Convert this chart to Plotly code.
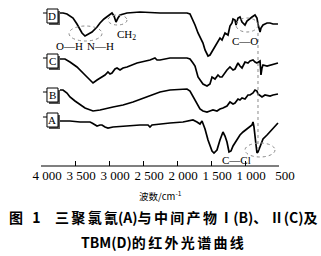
import plotly.graph_objects as go

# ---------------- data ----------------
wn_D = [3721,3676,3618,3529,3471,3397,3353,3309,3250,3176,3132,3074,3029,2956,2926,2897,2868,2838,2735,2544,
        2250,1853,1809,1765,1735,1691,1662,1618,1588,1544,1515,1471,1441,1412,1368,1338,1294,1250,1221,1191,
        1176,1147,1132,1103,1074,1044,1029,1000,971,926,897,853,824,809,779,765,735,676,632,588,515]
T_D = [153,153,152,148,142,133,130,132,134,139,143,147,149,153,150,144,148,151,153,154,
       153,153,152,146,141,133,129,123,116,110,111,116,120,123,128,126,133,131,140,143,
       147,146,141,148,149,144,143,141,145,148,149,151,148,142,134,138,141,143,143,142,142]

wn_C = [3721,3647,3574,3471,3353,3279,3235,3176,3103,3059,3015,2985,2956,2912,2882,2838,2794,2735,2588,2397,
        2324,2294,2250,2103,1853,1809,1765,1735,1691,1662,1618,1559,1515,1485,1441,1397,1368,1338,1294,1265,
        1221,1176,1147,1103,1074,1044,1000,956,926,882,853,824,779,765,750,735,676,632,588,515]
T_C = [107,107,104,99,91,86,83,86,89,91,94,92,93,97,98,96,98,99,103,106,
       108,106,106,108,108,107,103,100,89,86,82,80,82,89,87,91,89,89,94,96,
       99,96,97,103,100,98,104,103,105,106,104,103,105,91,98,101,100,101,102,103]

wn_B = [3721,3676,3618,3574,3500,3426,3353,3235,3132,2941,2794,2647,2500,2353,2250,2103,1853,1809,1765,1706,
        1662,1618,1559,1515,1471,1412,1368,1324,1265,1221,1176,1147,1103,1074,1044,1000,956,926,882,853,
        824,809,779,750,706,632,588,515]
T_B = [76,76,73,69,65,61,58,55,56,59,61,64,68,72,74,76,77,75,70,63,
       57,55,54,55,56,55,57,58,60,64,62,63,67,66,68,67,71,71,73,76,
       75,72,70,69,71,70,71,72]

wn_A = [3721,3574,3426,3279,3250,3206,3176,3132,3103,3059,3015,2941,2794,2544,2426,2397,2368,2250,2103,1912,
        1765,1706,1662,1632,1588,1544,1515,1485,1456,1412,1368,1338,1324,1294,1265,1235,1206,1176,1118,1074,
        1029,971,926,897,882,868,838,824,809,779,735,676,632,588,515]
T_A = [45,45,44,44,43,41,40,41,41,39,38,39,40,41,41,39,41,42,43,44,
       46,44,42,45,37,26,20,15,13,16,26,32,34,30,24,14,15,20,27,31,
       34,37,39,41,44,39,21,13,14,20,27,31,34,38,43]

# name, x, y, label-box centre level
series = [("D", wn_D, T_D, 150), ("C", wn_C, T_C, 105), ("B", wn_B, T_B, 71), ("A", wn_A, T_A, 46)]

tick_vals = [4000, 3500, 3000, 2500, 2000, 1500, 1000, 500]
tick_text = ["4 000", "3 500", "3 000", "2 500", "2 000", "1 500", "1 000", "500"]

SERIF = "Liberation Serif"
CJK = "Noto Sans CJK SC"

fig = go.Figure()
for name, xs, ys, _ in series:
    fig.add_trace(go.Scatter(x=xs, y=ys, mode="lines", line=dict(color="black", width=1.7),
                             showlegend=False, hoverinfo="skip"))

shapes = []
annotations = []

# axis line (only between 4000 and 500)
shapes.append(dict(type="line", xref="x", yref="paper", x0=4000, x1=500, y0=0, y1=0,
                   line=dict(color="black", width=1.2)))

# label boxes with shadow
for name, xs, ys, yc in series:
    shapes.append(dict(type="rect", xref="x", yref="y", x0=3882, x1=3721, y0=yc - 9, y1=yc + 5,
                       fillcolor="#555", line=dict(width=0)))
    shapes.append(dict(type="rect", xref="x", yref="y", x0=3912, x1=3750, y0=yc - 7, y1=yc + 7,
                       fillcolor="white", line=dict(color="black", width=1)))
    shapes.append(dict(type="line", xref="x", yref="y", x0=3971, x1=3912, y0=yc + 3, y1=yc + 3,
                       line=dict(color="black", width=1)))
    annotations.append(dict(x=3831, y=yc, xref="x", yref="y", text=name, showarrow=False,
                            font=dict(family=SERIF, size=11, color="black")))

# dotted annotation ellipses and guide line
dot = dict(color="#8a8a8a", width=1, dash="dot")
shapes += [
    dict(type="circle", xref="x", yref="y", x0=3588, x1=3103, y0=125, y1=140, line=dot),
    dict(type="circle", xref="x", yref="y", x0=3015, x1=2735, y0=141, y1=151, line=dot),
    dict(type="circle", xref="x", yref="y", x0=1132, x1=809, y0=134, y1=148, line=dot),
    dict(type="circle", xref="x", yref="y", x0=1000, x1=559, y0=9, y1=23, line=dot),
    dict(type="line", xref="x", yref="y", x0=809, x1=809, y0=16, y1=133, line=dot),
]

labels = [("O—H", 3588, 120), ("N—H", 3118, 120), ("CH<sub>2</sub>", 2750, 131),
          ("C—O", 1000, 125), ("C—Cl", 1132, 6)]
for t, x, y in labels:
    annotations.append(dict(x=x, y=y, xref="x", yref="y", text=t, showarrow=False,
                            font=dict(family=SERIF, size=11, color="black")))

# axis title (positions given in picture pixels -> paper)
def px_paper(px, py):
    return (px - 41) / 238, (166 - py) / 166

ax, ay = px_paper(160, 195)
annotations.append(dict(x=ax, y=ay, xref="paper", yref="paper", text="波数/cm<sup>-1</sup>",
                        showarrow=False, font=dict(family=CJK, size=9.5, color="black"),
                        yanchor="middle"))

# caption, with a little spacing between CJK characters
def spaced(s, sp="\u2006"):
    out = ""
    for i, ch in enumerate(s):
        out += ch
        if i + 1 < len(s):
            nxt = s[i + 1]
            if ord(ch) > 0x2000 and ord(nxt) > 0x2000:
                out += sp
    return out

line1 = spaced("三聚氯氰(A)与中间产物Ⅰ(B)、Ⅱ(C)及")
line2 = spaced("TBM(D)的红外光谱曲线")
cap = [("图\u2004\u20041", 7, 217, "left"), (line1, 53, 217, "left"), (line2, 162, 242, "center")]
for text, px, py, anchor in cap:
    cx, cy = px_paper(px, py)
    annotations.append(dict(text="<b>" + text + "</b>", x=cx, y=cy, xref="paper", yref="paper",
                            xanchor=anchor, yanchor="middle", showarrow=False,
                            font=dict(family=CJK, size=14, color="black")))

fig.update_layout(
    width=321, height=256,
    margin=dict(l=41, r=42, t=0, b=90),
    paper_bgcolor="white", plot_bgcolor="white",
    xaxis=dict(range=[4000, 500], tickvals=tick_vals, ticktext=tick_text,
               ticks="inside", ticklen=5, tickwidth=1, tickcolor="black",
               showline=False, showgrid=False, zeroline=False, ticklabelshift=-6,
               tickfont=dict(family=SERIF, size=13, color="black")),
    yaxis=dict(range=[0, 166], visible=False, showgrid=False, zeroline=False),
    shapes=shapes,
    annotations=annotations,
)

fig.write_html("out.html")
